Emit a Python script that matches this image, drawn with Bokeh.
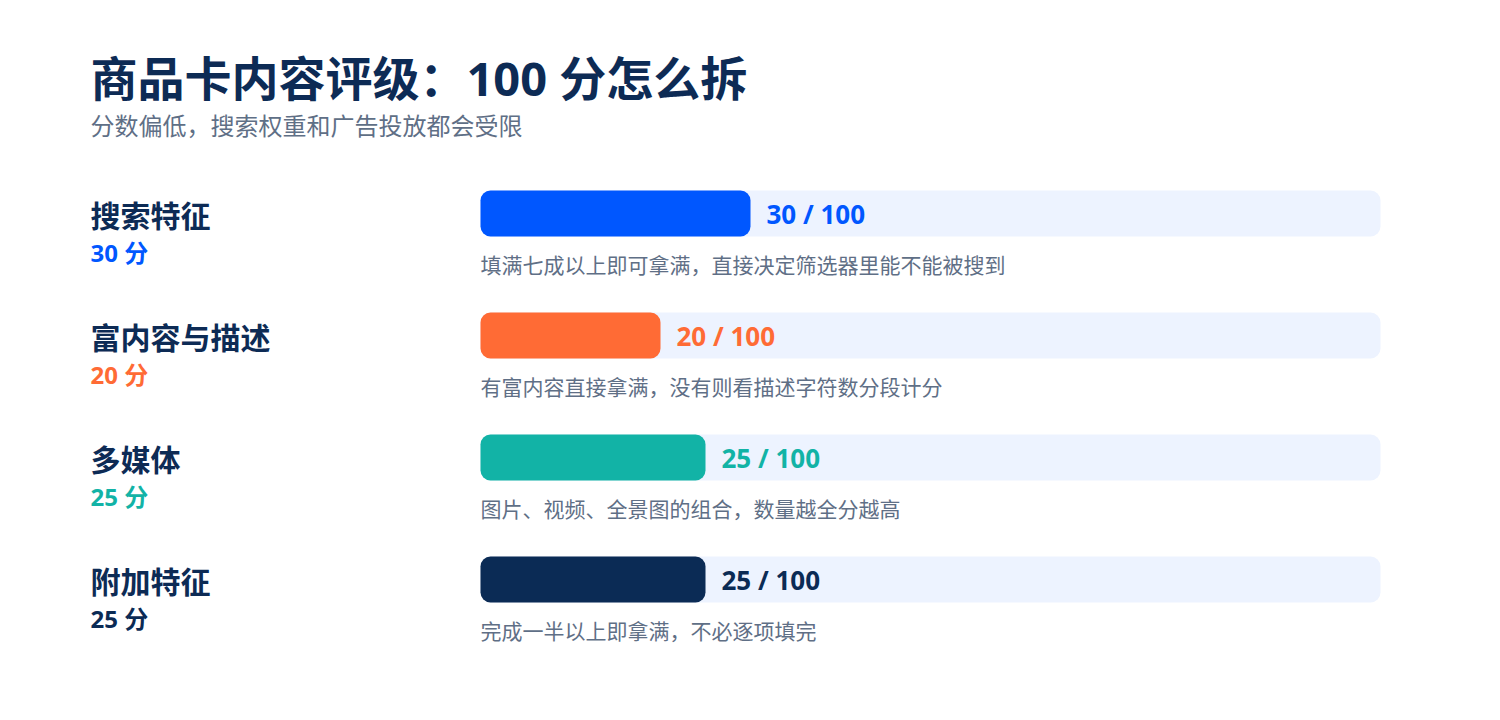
from bokeh.plotting import figure
from bokeh.models import Range1d, ColumnDataSource
from bokeh.core.properties import value
from bokeh.embed import file_html
from bokeh.resources import INLINE

# ---- data ----
title_text = "商品卡内容评级：100 分怎么拆"
subtitle_text = "分数偏低，搜索权重和广告投放都会受限"
categories = ["搜索特征", "富内容与描述", "多媒体", "附加特征"]
scores = [30, 20, 25, 25]
full_score = [100, 100, 100, 100]
descriptions = [
    "填满七成以上即可拿满，直接决定筛选器里能不能被搜到",
    "有富内容直接拿满，没有则看描述字符数分段计分",
    "图片、视频、全景图的组合，数量越全分越高",
    "完成一半以上即拿满，不必逐项填完",
]
colors = ["#0057FF", "#FF6B35", "#12B3A6", "#0B2B55"]

# ---- layout (pixels) ----
W, H = 1484, 704
PX = 9.0          # pixels per score point
X0 = 480.0        # figure px of score 0
ROW0 = 213.0      # figure px of first row centre
ROW = 122.0       # row spacing px

FONT = value("'Open Sans', 'Noto Sans CJK SC', sans-serif")
NAVY = "#0D2B55"
GRAY = "#5F6F86"

idx = list(range(len(categories)))
src = ColumnDataSource(dict(
    y=idx,
    cat=categories,
    score=scores,
    full=full_score,
    desc=descriptions,
    color=colors,
    score_lbl=[f"{s} 分" for s in scores],
    val_lbl=[f"{s} / {f}" for s, f in zip(scores, full_score)],
    y_cat=[i + 2 / ROW for i in idx],
    y_score=[i + 39 / ROW for i in idx],
    y_desc=[i + 51 / ROW for i in idx],
    y_val=[i + 0 / ROW for i in idx],
))

p = figure(width=W, height=H, output_backend="svg", toolbar_location=None,
           x_range=Range1d(-X0 / PX, (W - X0) / PX),
           y_range=Range1d((H - ROW0) / ROW, -ROW0 / ROW),
           min_border=0)
p.axis.visible = False
p.grid.visible = False
p.outline_line_color = None
p.background_fill_color = "white"
p.border_fill_color = "white"

bh = 46 / ROW
p.hbar(y="y", left=0, right="full", height=bh, source=src,
       fill_color="#EDF3FF", line_color=None, border_radius=10)
p.hbar(y="y", left=0, right="score", height=bh, source=src,
       fill_color="color", line_color=None, border_radius=10)

xl = (90 - X0) / PX
p.text(x=xl, y="y_cat", text="cat", source=src, text_font=FONT,
       text_font_style="bold", text_font_size="30px", text_color=NAVY,
       text_baseline="middle", text_align="left")
p.text(x=xl, y="y_score", text="score_lbl", source=src, text_font=FONT,
       text_font_style="bold", text_font_size="24px", text_color="color",
       text_baseline="middle", text_align="left")
p.text(x="score", y="y_val", text="val_lbl", source=src, text_font=FONT,
       text_font_style="bold", text_font_size="26px", text_color="color",
       text_baseline="middle", text_align="left", x_offset=16)
p.text(x=0, y="y_desc", text="desc", source=src, text_font=FONT,
       text_font_size="21px", text_color=GRAY,
       text_baseline="middle", text_align="left")

# title & subtitle
p.text(x=[xl], y=[(77 - ROW0) / ROW], text=[title_text], text_font=FONT,
       text_font_style="bold", text_font_size="47px", text_color=NAVY,
       text_baseline="middle", text_align="left")
p.text(x=[xl], y=[(125 - ROW0) / ROW], text=[subtitle_text], text_font=FONT,
       text_font_size="24px", text_color=GRAY,
       text_baseline="middle", text_align="left")

open("out.html", "w").write(file_html(p, INLINE))
